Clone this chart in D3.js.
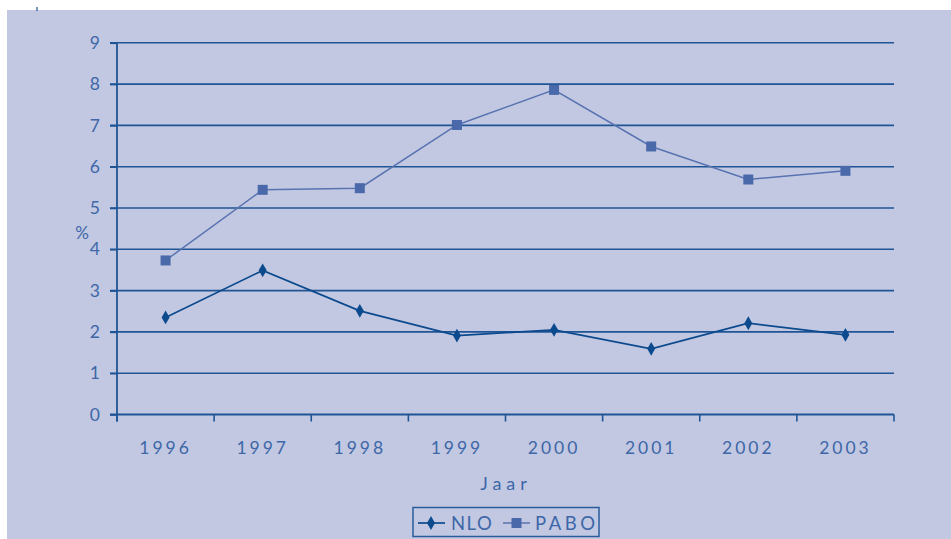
<!DOCTYPE html>
<html>
<head>
<meta charset="utf-8">
<script src="https://cdn.jsdelivr.net/npm/d3@7"></script>
<style>
html,body{margin:0;padding:0;background:#fff;}
svg{display:block;}
text{font-family:Lato,"Open Sans",sans-serif;fill:#3d67a7;}
</style>
</head>
<body>
<script>
const years = ["1996","1997","1998","1999","2000","2001","2002","2003"];
const nlo = [2.35, 3.49, 2.51, 1.91, 2.05, 1.59, 2.21, 1.93];
const pabo = [3.73, 5.44, 5.48, 7.01, 7.86, 6.49, 5.69, 5.90];
const yTicks = [0,1,2,3,4,5,6,7,8,9];
const seriesNames = ["NLO","PABO"];

const W = 951, H = 539;
const svg = d3.select("body").append("svg").attr("width", W).attr("height", H);

svg.append("rect").attr("x",7).attr("y",10).attr("width",W-7).attr("height",H-10).attr("fill","#c2c8e2");

const x = d3.scaleBand().domain(years).range([117, 894]);
const y = d3.scaleLinear().domain([0, 9]).range([414.5, 42.8]);

const gridCol = "#1f5596";
const txtCol = "#3f69a9";

// gridlines
svg.append("g").selectAll("line").data(yTicks.filter(d=>d>0)).join("line")
  .attr("x1",110).attr("x2",894)
  .attr("y1",d=>y(d)).attr("y2",d=>y(d))
  .attr("stroke",gridCol).attr("stroke-width",1.6);

// y axis
const yAxis = svg.append("g").attr("transform","translate(117,0)")
  .call(d3.axisLeft(y).tickValues(yTicks).tickSize(7).tickPadding(10).tickFormat(d3.format("d")));
yAxis.select(".domain").attr("stroke",gridCol).attr("stroke-width",1.8).attr("d", `M0,${y(9)}V${y(0)+7}`);
yAxis.selectAll(".tick line").attr("stroke",gridCol).attr("stroke-width",1.6);
yAxis.selectAll(".tick text").attr("font-size",17.5).attr("fill",txtCol).style("font-family","Lato, sans-serif");

// x axis
const xAxis = svg.append("g").attr("transform",`translate(0,${y(0)})`)
  .call(d3.axisBottom(x).tickSize(0).tickPadding(27));
xAxis.select(".domain").attr("stroke",gridCol).attr("stroke-width",1.8).attr("d","M110,0H894");
xAxis.selectAll(".tick text").attr("font-size",17.5).attr("fill",txtCol)
  .style("font-family","Lato, sans-serif").style("letter-spacing","3px");
// boundary ticks
const bounds = years.map(d=>x(d)).concat([x.range()[1]]);
svg.append("g").selectAll("line").data(bounds).join("line")
  .attr("x1",d=>d).attr("x2",d=>d).attr("y1",y(0)).attr("y2",y(0)+7)
  .attr("stroke",gridCol).attr("stroke-width",1.6);

// axis titles
svg.append("text").attr("x",506).attr("y",490).attr("text-anchor","middle")
  .attr("font-size",18).style("letter-spacing","5px").text("Jaar");
svg.append("text").attr("x",82).attr("y",239).attr("text-anchor","middle")
  .attr("font-size",17).text("%");

const cx = d => x(d) + x.bandwidth()/2;
const line = d3.line().x((d,i)=>cx(years[i])).y(d=>y(d));

const paboCol = "#4a69aa", nloCol = "#0c4a8e";

svg.append("path").datum(pabo).attr("d",line).attr("fill","none")
  .attr("stroke","#5873b0").attr("stroke-width",1.5);
svg.append("g").selectAll("rect").data(pabo).join("rect")
  .attr("x",(d,i)=>cx(years[i])-5).attr("y",d=>y(d)-5)
  .attr("width",10).attr("height",10).attr("fill",paboCol);

svg.append("path").datum(nlo).attr("d",line).attr("fill","none")
  .attr("stroke",nloCol).attr("stroke-width",1.7);
const diamond = d3.symbol().type(d3.symbolDiamond).size(55);
svg.append("g").selectAll("path").data(nlo).join("path")
  .attr("d",diamond)
  .attr("transform",(d,i)=>`translate(${cx(years[i])},${y(d)})`)
  .attr("fill",nloCol);

// legend
const lg = svg.append("g");
lg.append("rect").attr("x",413).attr("y",507.5).attr("width",186).attr("height",29)
  .attr("fill","none").attr("stroke","#2a5c9c").attr("stroke-width",1.5);
lg.append("line").attr("x1",418).attr("x2",445).attr("y1",523).attr("y2",523).attr("stroke",nloCol).attr("stroke-width",1.7);
lg.append("path").attr("d",diamond).attr("transform","translate(431,523)").attr("fill",nloCol);
lg.append("text").attr("x",451).attr("y",530).attr("font-size",18.5).style("letter-spacing","1.5px").text(seriesNames[0]);
lg.append("line").attr("x1",503).attr("x2",530).attr("y1",523).attr("y2",523).attr("stroke","#5873b0").attr("stroke-width",1.5);
lg.append("rect").attr("x",511.5).attr("y",518).attr("width",10).attr("height",10).attr("fill",paboCol);
lg.append("text").attr("x",535).attr("y",530).attr("font-size",18.5).style("letter-spacing","3.5px").text(seriesNames[1]);

// small mark top-left
svg.append("line").attr("x1",37).attr("x2",37).attr("y1",7).attr("y2",11).attr("stroke","#1f4f8f").attr("stroke-width",1.2);
</script>
</body>
</html>
